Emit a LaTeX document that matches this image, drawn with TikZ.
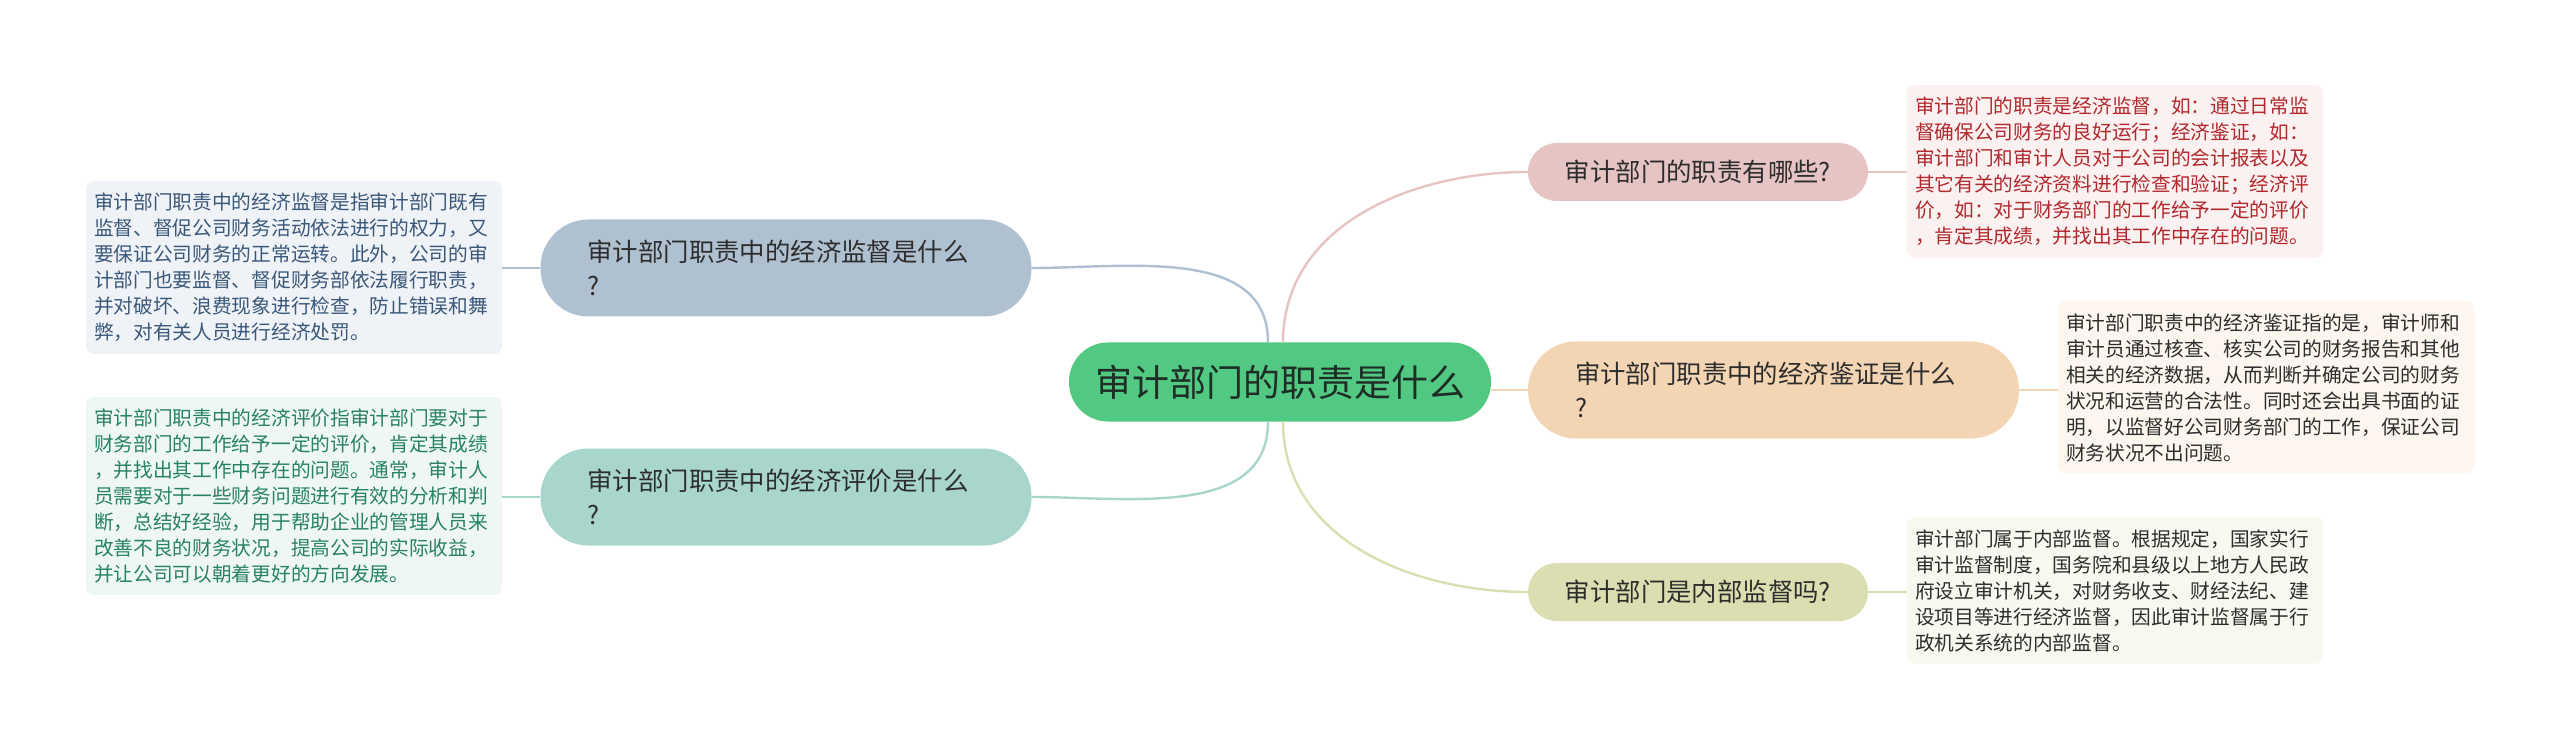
\documentclass[tikz,border=0pt]{standalone}
\usepackage{fontspec}
\newfontfamily\cjk{Noto Sans CJK SC}
\definecolor{cgreen}{RGB}{82,201,130}
\definecolor{bpink}{RGB}{230,196,196}
\definecolor{bpeach}{RGB}{243,213,180}
\definecolor{bolive}{RGB}{218,222,176}
\definecolor{bblue}{RGB}{175,192,209}
\definecolor{bteal}{RGB}{168,213,204}
\definecolor{dpink}{RGB}{251,241,241}
\definecolor{dpeach}{RGB}{253,246,239}
\definecolor{dolive}{RGB}{247,248,240}
\definecolor{dblue}{RGB}{239,242,246}
\definecolor{dteal}{RGB}{238,247,244}
\definecolor{tred}{RGB}{178,40,45}
\definecolor{tdark}{RGB}{45,45,45}
\definecolor{tblue}{RGB}{58,88,122}
\definecolor{tgreen}{RGB}{40,130,100}
\definecolor{tcenter}{RGB}{30,45,38}

\begin{document}
\begin{tikzpicture}[x=1pt,y=1pt,
topic/.style={fill=cgreen,rounded corners=39pt,minimum width=422pt,minimum height=79pt,inner sep=0pt,text=tcenter,font=\cjk\fontsize{37}{44}\selectfont},
branch/.style={rounded corners=29pt,minimum width=340pt,minimum height=58pt,inner sep=0pt,text=tdark,font=\cjk\fontsize{25.4}{33}\selectfont},
branchtwo/.style={rounded corners=48pt,minimum height=97pt,text width=397pt,inner xsep=47pt,inner ysep=0pt,align=left,text=tdark,font=\cjk\fontsize{25.4}{34}\selectfont},
detail/.style={rounded corners=8pt,text width=400pt,inner xsep=8pt,inner ysep=12pt,align=left,font=\cjk\fontsize{19.7}{26}\selectfont},
link/.style={line width=2.4pt},
]

\fill[white] (0,0) rectangle (2560,-751);
\useasboundingbox (0,0) rectangle (2560,-751);

% centre topic
\node[topic] (c) at (1280,-382) {审计部门的职责是什么};

% right side
\node[branch,fill=bpink] (b1) at (1698,-172) {审计部门的职责有哪些?};
\node[branchtwo,fill=bpeach] (b2) at (1773.5,-390) {审计部门职责中的经济鉴证是什么\\?};
\node[branch,fill=bolive] (b3) at (1698,-592) {审计部门是内部监督吗?};

% left side
\node[branchtwo,fill=bblue] (b4) at (786,-268) {审计部门职责中的经济监督是什么\\?};
\node[branchtwo,fill=bteal] (b5) at (786,-497) {审计部门职责中的经济评价是什么\\?};

\node[detail,fill=dpink,text=tred] (d1) at (2115,-171.5) {审计部门的职责是经济监督，如：通过日常监\\督确保公司财务的良好运行；经济鉴证，如：\\审计部门和审计人员对于公司的会计报表以及\\其它有关的经济资料进行检查和验证；经济评\\价，如：对于财务部门的工作给予一定的评价\\，肯定其成绩，并找出其工作中存在的问题。};
\node[detail,fill=dpeach,text=tdark] (d2) at (2266,-387.5) {审计部门职责中的经济鉴证指的是，审计师和\\审计员通过核查、核实公司的财务报告和其他\\相关的经济数据，从而判断并确定公司的财务\\状况和运营的合法性。同时还会出具书面的证\\明，以监督好公司财务部门的工作，保证公司\\财务状况不出问题。};
\node[detail,fill=dolive,text=tdark] (d3) at (2115,-590.5) {审计部门属于内部监督。根据规定，国家实行\\审计监督制度，国务院和县级以上地方人民政\\府设立审计机关，对财务收支、财经法纪、建\\设项目等进行经济监督，因此审计监督属于行\\政机关系统的内部监督。};
\node[detail,fill=dblue,text=tblue] (d4) at (294,-267.5) {审计部门职责中的经济监督是指审计部门既有\\监督、督促公司财务活动依法进行的权力，又\\要保证公司财务的正常运转。此外，公司的审\\计部门也要监督、督促财务部依法履行职责，\\并对破坏、浪费现象进行检查，防止错误和舞\\弊，对有关人员进行经济处罚。};
\node[detail,fill=dteal,text=tgreen] (d5) at (294,-496) {审计部门职责中的经济评价指审计部门要对于\\财务部门的工作给予一定的评价，肯定其成绩\\，并找出其工作中存在的问题。通常，审计人\\员需要对于一些财务问题进行有效的分析和判\\断，总结好经验，用于帮助企业的管理人员来\\改善不良的财务状况，提高公司的实际收益，\\并让公司可以朝着更好的方向发展。};

% curves from the centre
\draw[link,bpink] ([xshift=3pt]c.north) to[out=90,in=180] (b1.west);
\draw[link,bpeach] (c.east |- b2.west) -- (b2.west);
\draw[link,bolive] ([xshift=3pt]c.south) to[out=-90,in=180] (b3.west);
\draw[link,bblue] (b4.east) to[out=0,in=90] ([xshift=-12pt]c.north);
\draw[link,bteal] (b5.east) to[out=0,in=-90] ([xshift=-12pt]c.south);

% short links to the notes
\foreach \b/\d/\col in {b1/d1/bpink,b2/d2/bpeach,b3/d3/bolive}
  \draw[line width=2pt,\col] (\b.east) -- (\b.east -| \d.west);
\foreach \b/\d/\col in {b4/d4/bblue,b5/d5/bteal}
  \draw[line width=2pt,\col] (\b.west) -- (\b.west -| \d.east);

\end{tikzpicture}
\end{document}
